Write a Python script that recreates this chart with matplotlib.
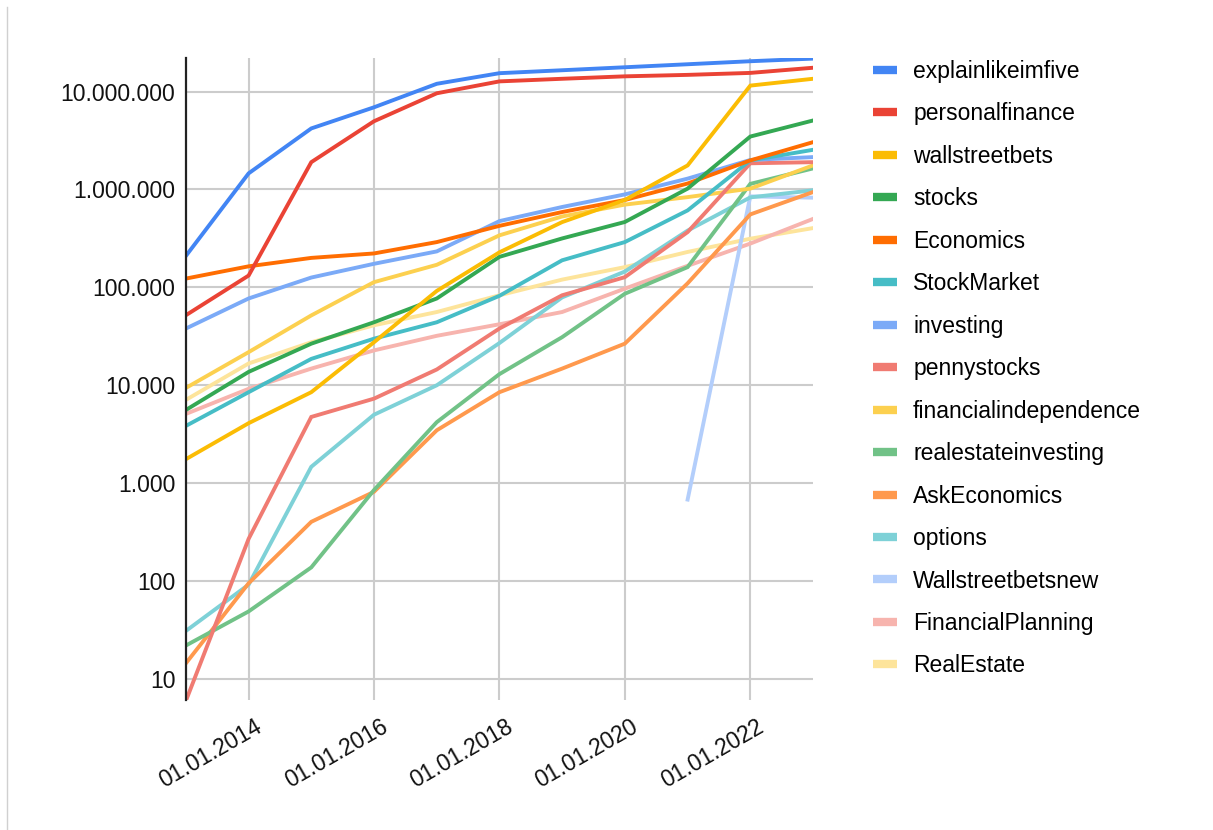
import datetime as dt
import numpy as np
import matplotlib
matplotlib.use("Agg")
import matplotlib.pyplot as plt
import matplotlib.dates as mdates
from matplotlib.ticker import FuncFormatter, FixedLocator
from matplotlib.lines import Line2D
from matplotlib.transforms import ScaledTranslation

plt.rcParams['font.family'] = ['Liberation Sans', 'DejaVu Sans']

years = [2013, 2014, 2015, 2016, 2017, 2018, 2019, 2020, 2021, 2022, 2023]
nan = np.nan

explainlikeimfive = [210000, 1460000, 4200000, 6900000, 12000000, 15400000, 16500000, 17700000, 19000000, 20400000, 21700000]
personalfinance = [52000, 132000, 1900000, 4970000, 9600000, 12700000, 13500000, 14300000, 14800000, 15500000, 17500000]
wallstreetbets = [1760, 4100, 8500, 27500, 92000, 228000, 464000, 780000, 1760000, 11500000, 13500000]
stocks = [5600, 13700, 26600, 44000, 77000, 205000, 316000, 465000, 1020000, 3470000, 5060000]
economics = [123000, 164000, 200000, 222000, 290000, 425000, 588000, 780000, 1150000, 1980000, 3040000]
stockmarket = [3850, 8500, 18600, 29900, 44000, 82000, 189000, 290000, 611000, 1980000, 2540000]
investing = [38000, 77000, 126000, 174000, 233000, 475000, 662000, 890000, 1290000, 2000000, 2140000]
pennystocks = [6, 270, 4750, 7300, 14500, 38000, 83000, 127000, 367000, 1850000, 1900000]
financialindependence = [9400, 21800, 51700, 113000, 170000, 340000, 530000, 700000, 835000, 1020000, 1760000]
realestateinvesting = [22, 49, 138, 850, 4200, 13000, 31000, 86000, 161000, 1140000, 1640000]
askeconomics = [14.5, 95, 403, 816, 3470, 8500, 14800, 26600, 110000, 556000, 940000]
options = [31, 92, 1470, 5000, 10000, 27000, 79000, 145000, 380000, 830000, 980000]
wallstreetbetsnew = [nan, nan, nan, nan, nan, nan, nan, nan, 680, 850000, 824000]
financialplanning = [5100, 9200, 14800, 22700, 32000, 42000, 56000, 97000, 166000, 280000, 500000]
realestate = [7100, 16700, 27500, 41000, 56000, 83000, 120000, 161000, 230000, 314000, 403000]

names = ['explainlikeimfive', 'personalfinance', 'wallstreetbets', 'stocks', 'Economics',
         'StockMarket', 'investing', 'pennystocks', 'financialindependence',
         'realestateinvesting', 'AskEconomics', 'options', 'Wallstreetbetsnew',
         'FinancialPlanning', 'RealEstate']
series = [explainlikeimfive, personalfinance, wallstreetbets, stocks, economics,
          stockmarket, investing, pennystocks, financialindependence,
          realestateinvesting, askeconomics, options, wallstreetbetsnew,
          financialplanning, realestate]
colors = ['#4285F4', '#EA4335', '#FBBC04', '#34A853', '#FF6D01',
          '#46BDC6', '#7BAAF7', '#F07B72', '#FCD04F',
          '#71C287', '#FF994D', '#7ED1D7', '#B3CEFB',
          '#F7B4AE', '#FDE49B']

dates = [dt.date(y, 1, 1) for y in years]

fig = plt.figure(figsize=(12.13, 8.30), dpi=100)
ax = fig.add_axes([0.1533, 0.1566, 0.5169, 0.7735])

for name, vals, c in zip(reversed(names), reversed(series), reversed(colors)):
    ax.plot(dates, vals, color=c, lw=2.8, label=name, solid_joinstyle='miter')

ax.set_yscale('log')
ax.set_ylim(6.1, 2.2e7)
ax.set_xlim(dates[0], dates[-1])

ax.yaxis.set_major_locator(FixedLocator([10, 100, 1e3, 1e4, 1e5, 1e6, 1e7]))
ax.yaxis.set_minor_locator(FixedLocator([]))
ax.yaxis.set_major_formatter(FuncFormatter(lambda v, p: f'{int(round(v)):,}'.replace(',', '.')))

ax.xaxis.set_major_locator(FixedLocator([mdates.date2num(dt.date(y, 1, 1)) for y in [2014, 2016, 2018, 2020, 2022]]))
ax.xaxis.set_major_formatter(mdates.DateFormatter('%d.%m.%Y'))

ax.tick_params(axis='both', length=0, labelsize=16.5, colors='#111111')
ax.tick_params(axis='y', pad=7.7)
ax.tick_params(axis='x', pad=11)
shift = ScaledTranslation(6 / 100, 0, fig.dpi_scale_trans)
for lab in ax.get_xticklabels():
    lab.set_rotation(30)
    lab.set_ha('right')
    lab.set_rotation_mode('anchor')
    lab.set_transform(lab.get_transform() + shift)

ax.grid(True, color='#cccccc', lw=1.5)
ax.set_axisbelow(True)
for s in ['top', 'right', 'bottom']:
    ax.spines[s].set_visible(False)
ax.spines['left'].set_color('#222222')
ax.spines['left'].set_linewidth(1.6)

handles = [Line2D([], [], color=c, lw=6, solid_capstyle='butt') for c in colors]
fig.legend(handles, names, loc='upper left', bbox_to_anchor=(0.7197, 0.928),
           frameon=False, fontsize=16.5, handlelength=1.05, handletextpad=0.7,
           labelspacing=0.85, borderaxespad=0, borderpad=0)

# screenshot frame edge on the left
fig.add_artist(Line2D([0.006, 0.006], [0.0, 0.992], color='#d0d0d0', lw=1))

fig.savefig('out.png', dpi=100)
